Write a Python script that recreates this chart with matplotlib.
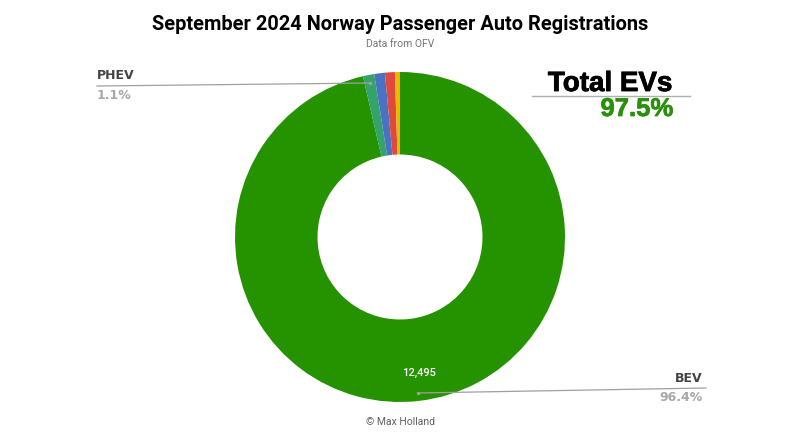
import matplotlib.pyplot as plt
import matplotlib.patheffects as pe

# registrations by powertrain, September 2024
fuels = ['BEV', 'PHEV', 'HEV', 'Petrol', 'Diesel']
counts = [12495, 143, 135, 125, 64]
colors = ['#259200', '#33a26b', '#4a72c4', '#de4a3b', '#f4b400']

ev_share = '97.5%'


def main():
    fig = plt.figure(figsize=(8, 4.45), dpi=100)
    ax = fig.add_axes([0, 0, 1, 1])

    cx, cy, r = 400, 208, 165
    ax.pie(counts, colors=colors, startangle=90, counterclock=False,
           center=(cx, cy), radius=r, frame=True,
           wedgeprops=dict(width=r * 0.5, linewidth=0))
    ax.set_xlim(0, 800)
    ax.set_ylim(0, 445)
    ax.set_aspect('equal')
    ax.axis('off')

    total = sum(counts)
    pct = [100.0 * c / total for c in counts]

    # value label inside the BEV slice
    ax.text(419, 445 - 373, '{:,}'.format(counts[0]), color='white',
            fontsize=8, weight='medium', family='Roboto', ha='center', va='center')

    # leader lines
    grey = '#a0a0a0'
    ax.plot([370, 97], [445 - 83, 445 - 86], color=grey, lw=0.9)
    ax.plot([370], [445 - 83], 'o', color=grey, ms=1.5)
    ax.text(97, 445 - 82, fuels[1], fontsize=9, weight='bold', color='#444444',
            family='DejaVu Sans', ha='left', va='bottom')
    ax.text(97, 445 - 89, '{:.1f}%'.format(pct[1]), fontsize=9, weight='bold',
            color='#a8a8a8', family='DejaVu Sans', ha='left', va='top')

    ax.plot([418, 706], [445 - 393, 445 - 388], color=grey, lw=0.9)
    ax.plot([418], [445 - 393], 'o', color=grey, ms=1.5)
    ax.text(703, 445 - 385, fuels[0], fontsize=9, weight='bold', color='#444444',
            family='DejaVu Sans', ha='right', va='bottom')
    ax.text(703, 445 - 391, '{:.1f}%'.format(pct[0]), fontsize=9, weight='bold',
            color='#a8a8a8', family='DejaVu Sans', ha='right', va='top')

    # total EVs callout
    ax.text(610, 445 - 84, 'Total EVs', fontsize=20, weight='bold', color='black',
            family='Liberation Sans', ha='center', va='center',
            path_effects=[pe.withStroke(linewidth=0.6, foreground='black')])
    ax.plot([532, 690], [445 - 96, 445 - 96], color='#b0b0b0', lw=1)
    ax.text(637, 445 - 109, ev_share, fontsize=18.5, weight='bold', color='#2a8f0a',
            family='Liberation Sans', ha='center', va='center',
            path_effects=[pe.withStroke(linewidth=0.5, foreground='#2a8f0a')])

    fig.text(0.5, 1 - 24 / 445, 'September 2024 Norway Passenger Auto Registrations',
             fontsize=14.4, weight='bold', family='Roboto', ha='center', va='center')
    fig.text(0.5, 1 - 44 / 445, 'Data from OFV', fontsize=7.5, color='#757575',
             family='Roboto', ha='center', va='center')
    fig.text(0.5, 1 - 422 / 445, '\u00a9 Max Holland', fontsize=7.5, color='#606060',
             family='Roboto', ha='center', va='center')

    fig.savefig('out.png', dpi=100, facecolor='white')


if __name__ == '__main__':
    main()
